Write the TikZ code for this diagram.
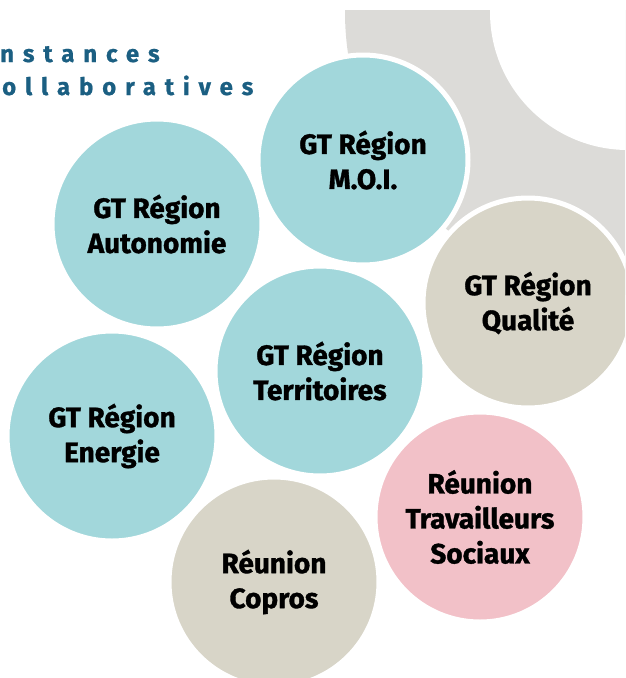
\documentclass[tikz,border=0pt]{standalone}
\usepackage{fontspec}
\setmainfont{Fira Sans}
\definecolor{bleuclair}{HTML}{A2D7DB}
\definecolor{beige}{HTML}{D8D5C8}
\definecolor{rose}{HTML}{F2C1C8}
\definecolor{grisfond}{HTML}{DCDBD8}
\definecolor{bleutitre}{HTML}{1B5F82}
\tikzset{
  bulle/.style={circle, draw=white, line width=5pt, minimum size=210pt,
                inner sep=0pt, align=center, text=black,
                font=\fontsize{28}{35}\selectfont\bfseries\addfontfeatures{FakeBold=1.2}},
  titre/.style={anchor=base west, inner sep=0pt, text=bleutitre,
                font=\fontsize{24}{33}\selectfont\bfseries\addfontfeatures{LetterSpace=37,FakeBold=0.8}}
}
\begin{document}
\begin{tikzpicture}[x=1pt,y=-1pt]
      \useasboundingbox (0,0) rectangle (625,678);
      \clip (0,0) rectangle (625,678);

      % anneau gris en haut a droite
      \begin{scope}
        \clip (0,10) rectangle (625,678);
        \fill[grisfond] (628,12) circle (283pt);
        \fill[white] (628,12) circle (138pt);
      \end{scope}

      \node[titre] (ligne1) at (0,62) {nstances};
      \node[titre] (ligne2) at (2,95) {ollaboratives};

      \foreach \nom/\x/\y/\coul/\texte in {moi/363/160/bleuclair/{GT Région\\M.O.I.},
                                           autonomie/157/224/bleuclair/{GT Région\\Autonomie},
                                           qualite/528/303/beige/{GT Région\\Qualité},
                                           territoires/320/371/bleuclair/{GT Région\\Territoires},
                                           energie/112/436/bleuclair/{GT Région\\Energie},
                                           sociaux/480/517/rose/{Réunion\\Travailleurs\\Sociaux},
                                           copros/274/582/beige/{Réunion\\Copros}}
      {\node[bulle, fill=\coul] (\nom) at (\x,\y) {\texte};
      };
    \end{tikzpicture}
\end{document}
